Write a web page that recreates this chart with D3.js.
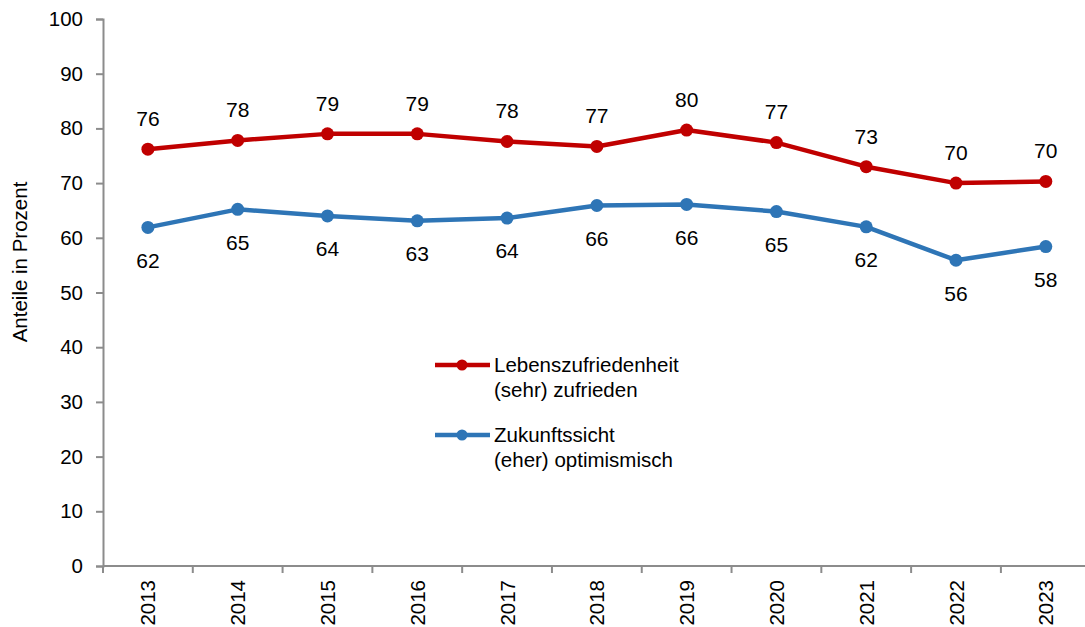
<!DOCTYPE html>
<html><head><meta charset="utf-8">
<script src="https://cdn.jsdelivr.net/npm/d3@7"></script>
<style>body{margin:0;background:#fff}svg{display:block}text{font-family:"Liberation Sans",Arial,sans-serif;fill:#000}</style>
</head><body>
<svg id="c" width="1085" height="627"></svg>
<script>
const years = ["2013","2014","2015","2016","2017","2018","2019","2020","2021","2022","2023"];
const lebenszufriedenheit = [76.2,77.8,79.0,79.0,77.6,76.7,79.7,77.4,73.0,70.0,70.3];
const lebenLabels = [76,78,79,79,78,77,80,77,73,70,70];
const zukunftssicht = [61.9,65.2,64.0,63.1,63.6,65.9,66.1,64.8,62.0,55.9,58.4];
const zukunftLabels = [62,65,64,63,64,66,66,65,62,56,58];
const yTicks = [0,10,20,30,40,50,60,70,80,90,100];
const seriesNames = [["Lebenszufriedenheit","(sehr) zufrieden"],["Zukunftssicht","(eher) optimismisch"]];
const colors = ["#C00000","#2E75B6"];

const svg = d3.select("#c");
const axisColor = "#8c8c8c";
const fs = "20.5px";
const x = d3.scaleBand().domain(years).range([103, 1090.7]);
const y = d3.scaleLinear().domain([0,100]).range([566, 19]);
const cx = d => x(d) + x.bandwidth()/2;

// y axis
const ya = svg.append("g").attr("transform","translate(103,0)")
  .call(d3.axisLeft(y).tickValues(yTicks).tickSize(7).tickPadding(13));
ya.select(".domain").attr("stroke",axisColor).attr("stroke-width",2);
ya.selectAll(".tick line").attr("stroke",axisColor).attr("stroke-width",2);
ya.selectAll(".tick text").attr("font-size",fs).attr("font-family","Liberation Sans, Arial, sans-serif").attr("fill","#000");

// x axis
const xa = svg.append("g").attr("transform","translate(0,566)");
xa.append("line").attr("x1",103).attr("x2",1085).attr("y1",0).attr("y2",0).attr("stroke",axisColor).attr("stroke-width",2);
xa.selectAll("line.tk").data(years).join("line").attr("class","tk")
  .attr("x1",d=>x(d)).attr("x2",d=>x(d)).attr("y1",0).attr("y2",7)
  .attr("stroke",axisColor).attr("stroke-width",2);
xa.selectAll("text.yl").data(years).join("text").attr("class","yl")
  .attr("transform",d=>`translate(${cx(d)+7.5},14) rotate(-90)`)
  .attr("text-anchor","end").attr("font-size",fs).text(d=>d);

// y title
svg.append("text").attr("transform","translate(27,262) rotate(-90)")
  .attr("text-anchor","middle").attr("font-size",fs).text("Anteile in Prozent");

const line = d3.line().x((d,i)=>cx(years[i])).y(d=>y(d));
const series = [
  {vals: lebenszufriedenheit, labels: lebenLabels, color: colors[0], dy: -30.5},
  {vals: zukunftssicht, labels: zukunftLabels, color: colors[1], dy: 33}
];
series.forEach(s=>{
  svg.append("path").datum(s.vals).attr("d",line).attr("fill","none")
    .attr("stroke",s.color).attr("stroke-width",4.5).attr("stroke-linejoin","round");
  svg.selectAll(null).data(s.vals).join("circle")
    .attr("cx",(d,i)=>cx(years[i])).attr("cy",d=>y(d)).attr("r",6.5).attr("fill",s.color);
  svg.selectAll(null).data(s.vals).join("text")
    .attr("x",(d,i)=>cx(years[i])).attr("y",d=>y(d)+s.dy)
    .attr("dy","0.35em").attr("text-anchor","middle").attr("font-size","21px")
    .text((d,i)=>s.labels[i]);
});

// legend
const legY = [365, 435];
seriesNames.forEach((n,i)=>{
  const g = svg.append("g");
  g.append("line").attr("x1",435).attr("x2",490).attr("y1",legY[i]).attr("y2",legY[i])
    .attr("stroke",colors[i]).attr("stroke-width",4.5);
  g.append("circle").attr("cx",462).attr("cy",legY[i]).attr("r",5.5).attr("fill",colors[i]);
  n.forEach((t,j)=>{
    g.append("text").attr("x",494).attr("y",legY[i]+j*24.5).attr("dy","0.35em")
      .attr("font-size",fs).text(t);
  });
});
</script>
</body></html>
